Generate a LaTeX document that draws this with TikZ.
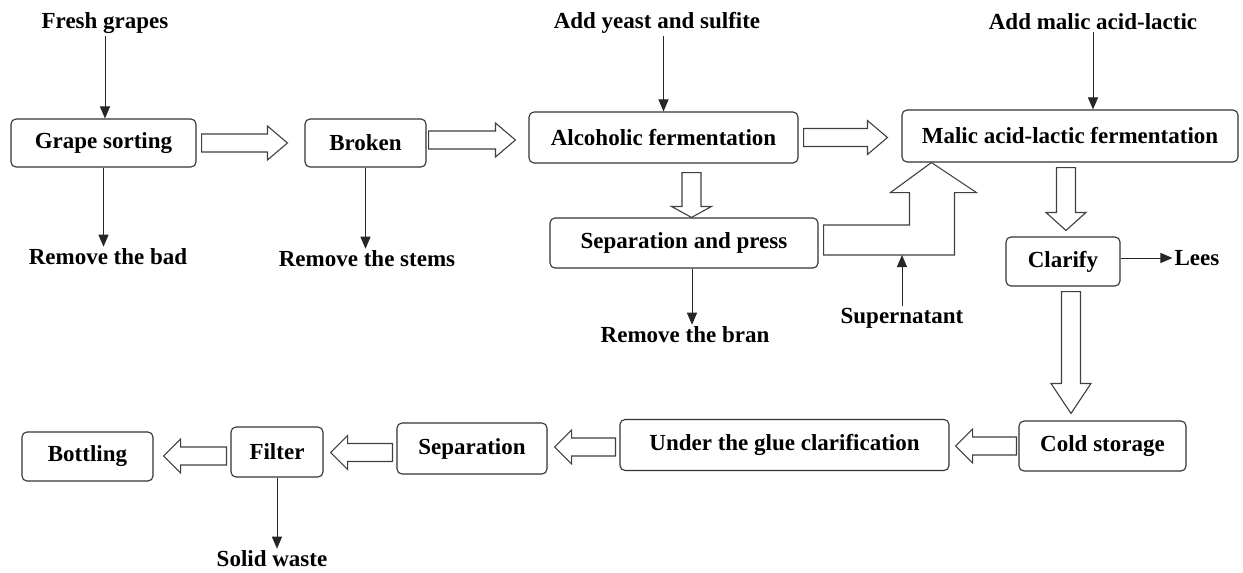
\documentclass[tikz,border=0pt]{standalone}
\usepackage{fontspec}
\setmainfont{Liberation Serif}
\usetikzlibrary{calc,arrows.meta}

\tikzset{
  box/.style={draw=black!80, line width=1.1pt, rounded corners=5pt, fill=white,
    inner sep=0pt, font=\bfseries\fontsize{23}{27}\selectfont},
  txt/.style={inner sep=2pt, font=\bfseries\fontsize{23}{27}\selectfont},
  thinarrow/.style={draw=black!85, line width=1pt, -{Triangle[length=12pt,width=10pt]}},
  blockarrow/.style={draw=black!75, line width=1.1pt, fill=white, line join=miter}
}

% hollow arrow, horizontal: start, tip, head length (signed)
\newcommand{\blockh}[3]{%
  \draw[blockarrow] let \p1=#1, \p2=#2 in
    (\x1,{\y1+9pt}) -- ({\x2-(#3pt)},{\y1+9pt}) -- ({\x2-(#3pt)},{\y1+17pt})
    -- (\x2,\y1) -- ({\x2-(#3pt)},{\y1-17pt}) -- ({\x2-(#3pt)},{\y1-9pt})
    -- (\x1,{\y1-9pt}) -- cycle;}
% hollow arrow, downwards: start, tip, head length
\newcommand{\blockv}[3]{%
  \draw[blockarrow] let \p1=#1, \p2=#2 in
    ({\x1-9.5pt},\y1) -- ({\x1-9.5pt},{\y2+#3pt}) -- ({\x1-20pt},{\y2+#3pt})
    -- (\x1,\y2) -- ({\x1+20pt},{\y2+#3pt}) -- ({\x1+9.5pt},{\y2+#3pt})
    -- ({\x1+9.5pt},\y1) -- cycle;}

\begin{document}
\begin{tikzpicture}[x=1pt,y=-1pt]
  \useasboundingbox (0,0) rectangle (1243,573);

  % process boxes
  \node[box, minimum width=185, minimum height=48] (sort) at (103.5,143) {Grape sorting};
  \node[box, minimum width=121, minimum height=48] (broken) at (365.5,143) {Broken};
  \node[box, minimum width=269, minimum height=51] (alc) at (663.5,137.5) {Alcoholic fermentation};
  \node[box, minimum width=336, minimum height=52] (malic) at (1070,136) {Malic acid-lactic fermentation};
  \node[box, minimum width=268, minimum height=50] (sep) at (684,243) {Separation and press};
  \node[box, minimum width=114, minimum height=49] (clarify) at (1063,261.5) {Clarify};
  \node[box, minimum width=167, minimum height=50] (cold) at (1102.5,446) {Cold storage};
  \node[box, minimum width=329, minimum height=51] (glue) at (784.5,445) {Under the glue clarification};
  \node[box, minimum width=150, minimum height=51] (separ) at (472,448.5) {Separation};
  \node[box, minimum width=92, minimum height=50] (filter) at (277,452) {Filter};
  \node[box, minimum width=131, minimum height=49] (bottle) at (87.5,456.5) {Bottling};

  % inputs and outputs
  \node[txt] (fresh) at (105,23) {Fresh grapes};
  \node[txt] (bad) at (108,257) {Remove the bad};
  \node[txt] (stems) at (367,259) {Remove the stems};
  \node[txt] (yeast) at (657,23) {Add yeast and sulfite};
  \node[txt] (bran) at (685,335) {Remove the bran};
  \node[txt] (super) at (902,318) {Supernatant};
  \node[txt] (addmalic) at (1093,22) {Add malic acid-lactic};
  \node[txt] (lees) at (1197,258) {Lees};
  \node[txt] (solid) at (272,559) {Solid waste};

  \draw[thinarrow] (fresh.south) -- (fresh.south |- sort.north);
  \draw[thinarrow] (sort.south) -- (sort.south |- bad.north);
  \draw[thinarrow] (broken.south) -- (broken.south |- stems.north);
  \draw[thinarrow] (alc.north |- yeast.south) -- (alc.north);
  \draw[thinarrow] ($(sep.south)+(8,0)$) -- ($(sep.south |- bran.north)+(8,0)$);
  \draw[thinarrow] (addmalic.south) -- (addmalic.south |- malic.north);
  \draw[thinarrow] (clarify.east |- lees) -- (lees.west);
  \draw[thinarrow] (filter.south) -- (filter.south |- solid.north);

  % hollow arrows
  \blockh{($(sort.east)+(5,0)$)}{($(broken.west)+(-17,0)$)}{20}
  \blockh{($(broken.east)+(2,-3)$)}{($(alc.west)+(-13,0)$)}{20}
  \blockh{($(alc.east)+(5,0)$)}{($(malic.west)+(-14,0)$)}{20}
  \blockh{($(cold.west)+(-2,0)$)}{($(glue.east)+(6,0)$)}{-17}
  \blockh{($(glue.west)+(-4,2)$)}{($(separ.east)+(7,0)$)}{-17}
  \blockh{($(separ.west)+(-4,4)$)}{($(filter.east)+(7,0)$)}{-17}
  \blockh{($(filter.west)+(-4,4)$)}{($(bottle.east)+(10,0)$)}{-17}
  \blockv{($(alc.south)+(28,9)$)}{(sep.north)}{11}
  \blockv{($(malic.south)+(-4,5)$)}{($(clarify.north)+(0,-6)$)}{18}
  \blockv{($(clarify.south)+(8,5)$)}{($(cold.north)+(0,-7)$)}{30}

  % bent arrow from press to malolactic step
  \coordinate (bendtip) at ($(malic.south west)+(30,0)$);
  \coordinate (bendfoot) at ($(sep.east)+(0,12)$);
  \draw[blockarrow] let \p1=($(sep.east)+(5,0)$), \p2=(bendtip) in
    (\x1,{\y1+18pt}) -- ({\x2-22pt},{\y1+18pt}) -- ({\x2-22pt},{\y2-30pt})
    -- ({\x2-41pt},{\y2-30pt}) -- (\x2,\y2) -- ({\x2+45pt},{\y2-30pt})
    -- ({\x2+23pt},{\y2-30pt}) -- ({\x2+23pt},{\y1-12pt}) -- (\x1,{\y1-12pt}) -- cycle;
  \draw[thinarrow] (super.north) -- (super.north |- bendfoot);
\end{tikzpicture}
\end{document}
